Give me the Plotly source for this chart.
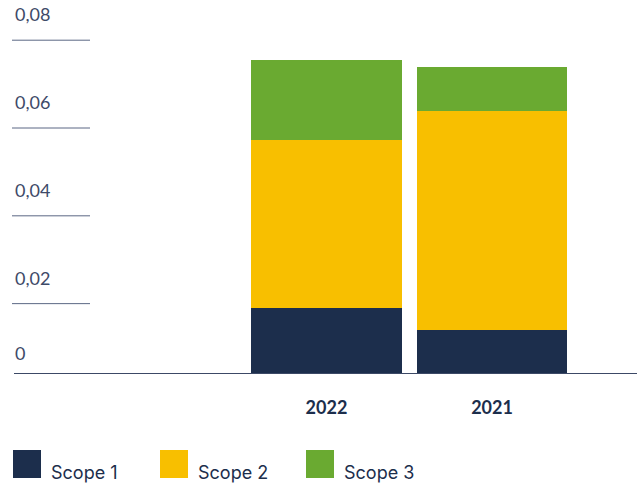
import plotly.graph_objects as go

# valores (tCO2e)
years = ['2022', '2021']
scope1 = [0.0189, 0.0139]
scope2 = [0.0383, 0.0499]
scope3 = [0.0184, 0.0100]

series_names = ['Scope 1', 'Scope 2', 'Scope 3']
series_colors = ['#1c2e4c', '#f8bf00', '#6aaa31']

y_tick_vals = [0.02, 0.04, 0.06, 0.08]
y_tick_text = ['0,02', '0,04', '0,06', '0,08']

W, H = 637, 485
M_L, M_R, M_T, M_B = 14, 0, 20, 112
PLOT_W = W - M_L - M_R
PLOT_H = H - M_T - M_B


def px_x(x):
    return (x - M_L) / PLOT_W


def px_y(y):
    return (H - M_B - y) / PLOT_H


fig = go.Figure()
for name, vals, color in zip(series_names, [scope1, scope2, scope3], series_colors):
    fig.add_trace(go.Bar(x=years, y=vals, name=name, marker_color=color,
                         marker_line_width=0, showlegend=False))

label_font = dict(family='Lato', size=18, color='#3e4a68')

# linhas curtas de grade + rótulos
for v, t in zip(y_tick_vals, y_tick_text):
    fig.add_shape(type='line', xref='paper', yref='y', x0=px_x(12), x1=px_x(90),
                  y0=v, y1=v, line=dict(color='#5b6784', width=1))
    fig.add_annotation(text=t, xref='paper', yref='y', x=px_x(13), y=v,
                       xanchor='left', yanchor='bottom', yshift=13,
                       showarrow=False, font=label_font)
fig.add_annotation(text='0', xref='paper', yref='paper', x=px_x(13), y=0,
                   xanchor='left', yanchor='bottom', yshift=7,
                   showarrow=False, font=label_font)

# legenda manual
legend_x = [13, 160, 306]
for name, color, lx in zip(series_names, series_colors, legend_x):
    fig.add_shape(type='rect', xref='paper', yref='paper',
                  x0=px_x(lx), x1=px_x(lx + 28), y0=px_y(478), y1=px_y(450),
                  fillcolor=color, line_width=0)
    fig.add_annotation(text=name, xref='paper', yref='paper', x=px_x(lx + 36),
                       y=px_y(485), xanchor='left', yanchor='bottom',
                       showarrow=False,
                       font=dict(family='Inter', size=18, color='#1c2e4c'))

fig.update_layout(
    barmode='stack',
    bargap=0.088,
    width=W, height=H,
    margin=dict(l=M_L, r=M_R, t=M_T, b=M_B),
    plot_bgcolor='white', paper_bgcolor='white',
    xaxis=dict(type='category', range=[-1.888, 1.876], showgrid=False,
               showline=True, linecolor='#3c4966', linewidth=1,
               ticks='', ticklabelstandoff=18,
               tickfont=dict(family='Lato', size=18, color='#1c2e4c', weight='bold')),
    yaxis=dict(range=[0.0042, 0.0846], showgrid=False, zeroline=False,
               showticklabels=False),
)

# tira a margem padrão do body para o gráfico ocupar a janela toda
fig.write_html('out.html', config={'displayModeBar': False},
               post_script="document.body.style.margin='0';")
